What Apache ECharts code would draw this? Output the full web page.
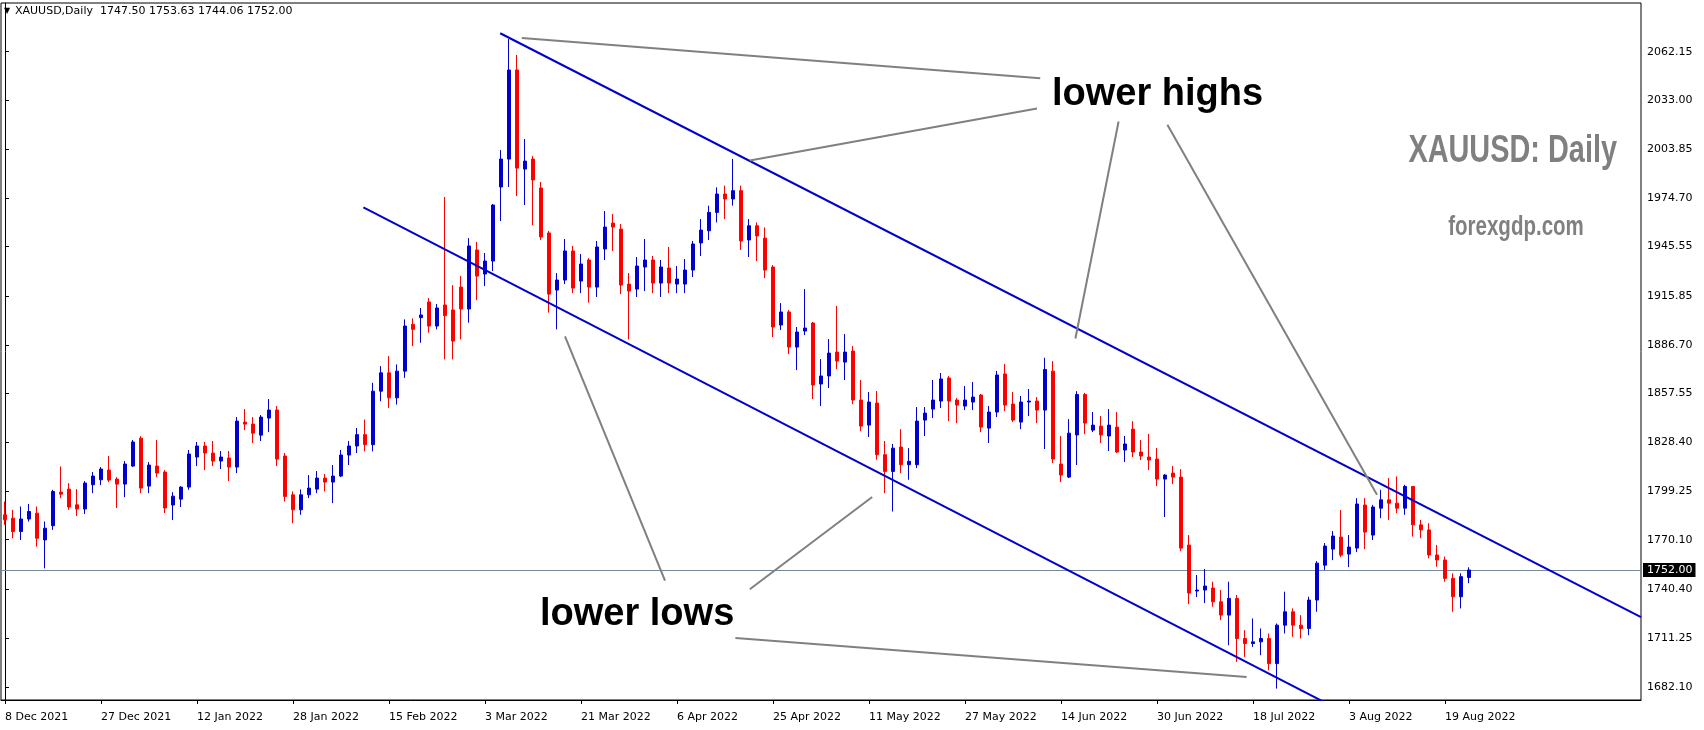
<!DOCTYPE html>
<html>
<head>
<meta charset="utf-8">
<script src="https://cdn.jsdelivr.net/npm/echarts@6/dist/echarts.min.js"></script>
<style>
html,body{margin:0;padding:0;background:#fff;}
#chart{width:1704px;height:730px;}
</style>
</head>
<body>
<div id="chart"></div>
<script>
// ---- data (XAUUSD daily, bar 0 = 8 Dec 2021) ----
const open = [1785,1783,1775,1782.5,1786,1770,1778.5,1798.6,1800.4,1791,1788.5,1803,1806,1811.8,1806.4,1803.4,1814.2,1830.9,1802.2,1814.2,
1810.6,1790.9,1794.4,1801.6,1819.6,1826.2,1822,1817.2,1819,1813.6,1840.5,1839.3,1832.7,1842.9,1847.7,1820.2,1797,1788,1797,1800.4,
1807,1804.6,1808.2,1820.8,1826.2,1833,1827,1859,1870,1855,1871,1899,1903,1912.4,1898,1910.6,1907.6,1921.3,1908.2,1943.5,
1929.1,1936.9,1981.2,1997.9,2051.2,1991.9,1997.9,1980.6,1953.7,1919.5,1925.5,1942.9,1924.9,1937.5,1921.3,1944.1,1959.6,1956,1923.1,1920.1,
1933.3,1937.5,1923.7,1932.7,1923.1,1923.1,1931.5,1947.7,1955,1966,1977,1974,1979,1949.5,1958,1950.6,1933.3,1898.6,1906.4,1885.4,
1895,1899.8,1863.3,1868.1,1882.4,1876.4,1883,1853.7,1838.7,1851.9,1821,1811,1825.6,1815,1815,1841.7,1848.3,1853.1,1866.9,1853.7,
1850.1,1852.5,1856.7,1836.9,1846.5,1869.3,1851.3,1840.5,1852.5,1853.1,1847.7,1871,1815.4,1807.6,1832.8,1857,1835.7,1838.1,1832.2,1837.5,
1823.8,1836.3,1822.6,1819.6,1818.4,1806.4,1810,1807.6,1766.9,1739.4,1740,1741.2,1733,1725,1735,1711,1708,1709,1711,1696,
1719,1727,1719,1717,1734,1754.9,1764.5,1771.7,1761.5,1765.1,1790.9,1772.9,1789,1794,1792,1789,1802,1779,1776,1761,
1758,1747,1736,1747.5];
const close = [1782,1775,1782.5,1787,1771,1777,1799,1797.4,1789.7,1788.5,1804,1808.2,1812.4,1805.8,1803.4,1815.4,1828.6,1801,1814.8,1810,
1789.1,1796.2,1801.6,1821.4,1826.2,1822,1817.2,1819.6,1813.6,1841.1,1839.3,1833.9,1843.5,1847.7,1818.4,1796,1788,1797,1801,1807,
1804.6,1808.2,1820.8,1826.2,1833,1827,1859,1870,1855,1871,1898,1896,1904.6,1898,1908.8,1904.2,1889,1908.2,1945.9,1927.9,
1936.9,1970.4,1997.9,2051.2,1992.5,1996.7,1985.4,1951.3,1917.1,1925.5,1942.9,1920.7,1935.1,1921.3,1945.3,1957.2,1957.2,1922.5,1918.9,1933.9,
1937.5,1923.7,1933.3,1923.7,1926.1,1931.5,1947.1,1955.4,1966,1977,1974,1979,1948.9,1958,1951.9,1931.5,1897.4,1906.4,1885.4,1894.4,
1896.8,1862.7,1868.1,1881.8,1877,1882.4,1853.7,1838.1,1852.5,1821,1811,1824.9,1815,1817,1841.1,1845.9,1853.7,1866.3,1853.1,1850.7,
1853.7,1855.5,1837.5,1846.5,1868.7,1850.7,1841.7,1852.5,1853.1,1847.7,1872,1818.4,1808.8,1833.9,1857,1839.9,1838.7,1832.8,1838.7,1822.6,
1827.4,1822.6,1820.2,1817.8,1806.4,1808.8,1807.6,1765.1,1738.2,1740,1742.4,1733,1725,1735,1711,1708,1709,1711,1696,1719,
1727,1719,1717,1734,1756.1,1766.3,1772.3,1760.9,1765.7,1791.5,1774.7,1789.7,1794,1792,1789,1802,1779,1776,1761,1758,
1747,1736,1748,1752];
const low = [1779,1771,1770,1781,1766,1753,1776,1795,1788,1784.3,1785.5,1798,1802.8,1804.6,1789.1,1795.6,1813.6,1798,1798,1807.6,
1786.1,1781.9,1789.7,1800,1814.2,1811.8,1814.2,1812.4,1805.2,1810,1835.7,1828,1829.2,1834.5,1814.2,1793,1780,1785,1795,1798,
1799,1792,1807.6,1814.8,1822,1823,1823,1853,1849,1851,1867,1886,1888,1894,1896,1878,1878,1890,1900,1913.5,
1921.9,1930.9,1960.8,1981.2,1975.8,1970.4,1958.4,1949.5,1906,1896,1923.1,1917.7,1917.7,1912,1915.4,1937.5,1942.9,1917.1,1890,1915.4,
1918.9,1917.7,1915.4,1917.7,1917.7,1917.7,1927.3,1939.9,1949.5,1960,1962,1970,1943.5,1939.3,1936.9,1926.7,1891.4,1895.6,1881.2,1871.6,
1892.6,1854.3,1850.1,1860.9,1872.2,1865.7,1851.3,1835.1,1831.6,1818,1798,1787,1810,1806,1813,1832.2,1842.9,1848.9,1841.1,1839.9,
1847.7,1847.7,1834.5,1828,1843.5,1847.1,1840.5,1836.3,1844.1,1839.9,1824.4,1816,1804.6,1807,1814.8,1833.3,1834.5,1828,1823.2,1822,
1816.6,1819.6,1817.8,1811.8,1802.2,1783.7,1803.4,1763.3,1731.6,1735.8,1732.2,1730,1722,1707,1697,1700,1706,1701,1692,1681,
1714,1712,1711,1713,1727,1752,1757.9,1759.7,1753.7,1762.7,1764.5,1770,1783,1782,1786,1785,1772,1771,1759,1754,
1745,1727,1729,1744.06];
const high = [1793,1788,1790,1791.5,1790,1781,1800,1814,1804,1800.4,1805.2,1810.6,1813.6,1820.2,1807.6,1817.2,1829.8,1832.1,1816.6,1829.8,
1811.8,1798.6,1802.2,1823.8,1828.6,1828.6,1829.2,1823.2,1823.2,1843.5,1848.3,1843.5,1844.7,1854.3,1850.1,1822,1799,1800.2,1808.8,1811.2,
1809.4,1814.8,1823.8,1829.2,1837,1842,1864,1874,1880,1875,1902,1902.6,1908.8,1914.7,1911.2,1975.2,1922.5,1927.9,1950.6,1948.3,
1941.7,1971,2003.3,2069.7,2060.2,2009.9,1999.7,1984.2,1954.9,1929.7,1950.1,1945.9,1941.1,1938.7,1948.9,1966.8,1965,1959,1929.7,1939.3,
1950.1,1939.9,1937.5,1945.3,1933.9,1938.1,1948.9,1962,1970,1981,1982,1998,1982,1962,1960,1957,1934.5,1911.7,1907.6,1897.4,
1920.1,1900.4,1878.2,1890.2,1910,1893.2,1886,1865.7,1858.5,1859.1,1829.2,1827.4,1836.3,1824.9,1849.5,1849.5,1865.7,1869.9,1868.1,1854.9,
1862.1,1864.5,1857.3,1850.1,1871.1,1875.3,1858.5,1856.1,1860.3,1855.5,1879,1877,1832.2,1842.3,1859,1858,1846.5,1844.1,1848.3,1846.5,
1832.2,1841.1,1829.8,1833.4,1825,1809.4,1814.2,1812.4,1772.9,1749,1752.6,1745,1740,1745,1737,1716,1723,1717,1714,1720,
1739,1729,1725,1736,1757.3,1768.1,1775.3,1787.9,1772.9,1795,1795,1791,1800,1807,1808,1803,1802,1782,1780,1767,
1760,1750,1750,1753.63];
const barSlots = 205;                       // bar slots across the chart window
const tickIdx = [0,12,24,36,48,60,72,84,96,108,120,132,144,156,168,180];
const tickLabels = ['8 Dec 2021','27 Dec 2021','12 Jan 2022','28 Jan 2022','15 Feb 2022','3 Mar 2022','21 Mar 2022','6 Apr 2022',
  '25 Apr 2022','11 May 2022','27 May 2022','14 Jun 2022','30 Jun 2022','18 Jul 2022','3 Aug 2022','19 Aug 2022'];
const priceTicks = [2062.15,2033.00,2003.85,1974.70,1945.55,1915.85,1886.70,1857.55,1828.40,1799.25,1770.10,1740.40,1711.25,1682.10];
const lastPrice = 1752.00;
const header = 'XAUUSD,Daily  1747.50 1753.63 1744.06 1752.00';
// channel lines and annotation pointers, in [bar, price] coordinates
const channelLines = [[[61.9,2073.2],[204.5,1723.8]], [[44.8,1969.0],[166.5,1669.0]]];
const pointerLines = [
  [[64.6,2070.4],[129.4,2046.3]], [[93.1,1997.0],[129.0,2028.2]], [[139.2,2020.4],[133.8,1890.5]],
  [[145.3,2018.4],[171.5,1797.0]], [[70.0,1891.8],[82.5,1745.7]], [[93.1,1740.5],[108.4,1795.7]],
  [[91.3,1711.3],[155.2,1687.9]]
];

const categories = Array.from({length: barSlots}, (_, i) => String(i));
const candles = open.map((o, i) => [o, close[i], low[i], high[i]]);
const isTick = i => tickIdx.indexOf(i) >= 0;

const chart = echarts.init(document.getElementById('chart'), null, {renderer: 'canvas'});
const axisFont = 'DejaVu Sans';

const lineSeries = [];
channelLines.forEach(l => lineSeries.push({
  type: 'line', xAxisIndex: 1, yAxisIndex: 0, data: l, symbol: 'none', clip: true, silent: true, z: 5,
  lineStyle: {color: '#0000CD', width: 2}
}));
pointerLines.forEach(l => lineSeries.push({
  type: 'line', xAxisIndex: 1, yAxisIndex: 0, data: l, symbol: 'none', clip: true, silent: true, z: 5,
  lineStyle: {color: '#808080', width: 2}
}));

chart.setOption({
  animation: false,
  backgroundColor: '#ffffff',
  grid: {left: 1, right: 63, top: 3, bottom: 30, show: true, borderColor: '#000', borderWidth: 1, backgroundColor: '#fff'},
  xAxis: [{
    type: 'category', data: categories, boundaryGap: true,
    axisLine: {show: true, lineStyle: {color: '#000', width: 1}},
    axisTick: {show: true, alignWithLabel: true, interval: (i) => isTick(i), length: 4, lineStyle: {color: '#000'}},
    axisLabel: {show: true, interval: (i) => isTick(i), align: 'left', margin: 12,
      formatter: (v, i) => tickLabels[tickIdx.indexOf(i)] || '',
      color: '#000', fontFamily: axisFont, fontSize: 11},
    splitLine: {show: false}
  }, {
    type: 'value', min: -0.5, max: barSlots - 0.5, show: false
  }],
  yAxis: [{
    type: 'value', position: 'right', min: 1674.2, max: 2091.3, scale: true,
    axisLine: {show: true, lineStyle: {color: '#000', width: 1}},
    axisTick: {show: true, length: 4, customValues: priceTicks, lineStyle: {color: '#000'}},
    axisLabel: {show: true, customValues: priceTicks, margin: 6, formatter: v => v.toFixed(2),
      color: '#000', fontFamily: axisFont, fontSize: 11},
    splitLine: {show: false}
  }],
  series: [{
    type: 'candlestick', data: candles, xAxisIndex: 0, yAxisIndex: 0,
    barWidth: 4, z: 3,
    itemStyle: {color: '#0000CD', color0: '#FF0000', borderColor: '#0000CD', borderColor0: '#FF0000', borderWidth: 1},
    markLine: {
      silent: true, symbol: 'none', animation: false, z: 2,
      lineStyle: {color: '#778899', width: 1, type: 'solid'},
      label: {show: true, position: 'end', distance: 2, formatter: () => lastPrice.toFixed(2),
        backgroundColor: '#000', color: '#fff', fontFamily: axisFont, fontSize: 11, padding: [2, 3, 1, 4]},
      data: [{yAxis: lastPrice}]
    }
  }].concat(lineSeries),
  graphic: [
    {type: 'text', left: 4, top: 7, z: 10, style: {text: '\u25BC', font: '8px "DejaVu Sans"', fill: '#000'}},
    {type: 'text', left: 15, top: 6, z: 10, style: {text: header, font: '11px "DejaVu Sans"', fill: '#000'}},
    {type: 'text', z: 10, style: {text: 'lower highs', x: 1052, y: 95, textVerticalAlign: 'middle', font: 'bold 38px "Liberation Sans"', fill: '#000'}},
    {type: 'text', z: 10, style: {text: 'lower lows', x: 540, y: 615, textVerticalAlign: 'middle', font: 'bold 38px "Liberation Sans"', fill: '#000'}},
    {type: 'text', z: 10, x: 1617, y: 152, scaleX: 0.76, style: {text: 'XAUUSD: Daily', x: 0, y: 0, textAlign: 'right', textVerticalAlign: 'middle', font: 'bold 38px "Liberation Sans"', fill: '#808080'}},
    {type: 'text', z: 10, x: 1516, y: 228, scaleX: 0.76, style: {text: 'forexgdp.com', x: 0, y: 0, textAlign: 'center', textVerticalAlign: 'middle', font: 'bold 27px "Liberation Sans"', fill: '#808080'}}
  ]
});
</script>
</body>
</html>
